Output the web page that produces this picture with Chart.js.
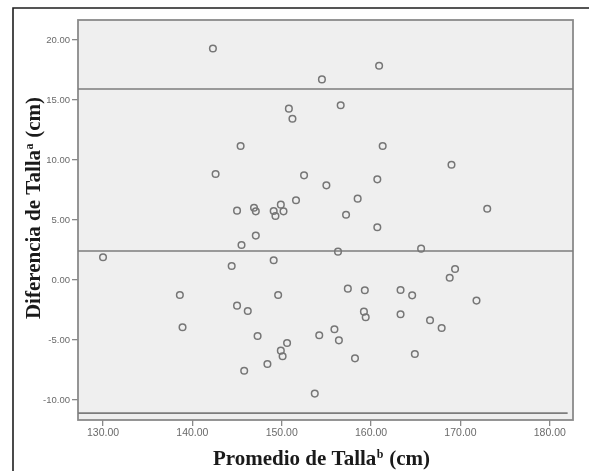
<!DOCTYPE html>
<html><head><meta charset="utf-8">
<script src="https://cdn.jsdelivr.net/npm/chart.js@4"></script>
<style>html,body{margin:0;padding:0;background:#fff}#wrap{width:589px;height:471px;position:relative}</style>
</head><body><div id="wrap"><canvas id="c" width="589" height="471"></canvas></div>
<script>
// Promedio de talla (x) and diferencia de talla (y) for each subject
const promedio = [142.3,150.8,151.2,145.4,142.6,145.0,146.9,147.1,149.1,149.3,149.9,150.2,151.6,147.1,
  160.9,154.5,156.6,161.3,169.0,152.5,155.0,160.7,158.5,157.2,173.0,160.7,
  145.5,130.0,144.4,149.1,138.6,149.6,145.0,146.2,138.9,147.3,150.6,149.9,150.1,148.4,145.8,
  165.6,156.3,169.4,168.8,157.4,159.3,163.3,164.6,171.8,159.2,159.4,163.3,166.6,167.9,155.9,154.2,156.4,164.9,158.2,153.7];
const diferencia = [19.30,14.28,13.44,11.17,8.83,5.78,6.02,5.72,5.75,5.33,6.28,5.72,6.65,3.70,
  17.86,16.72,14.56,11.17,9.61,8.72,7.89,8.39,6.78,5.44,5.94,4.39,
  2.92,1.89,1.17,1.64,-1.25,-1.25,-2.14,-2.58,-3.94,-4.67,-5.25,-5.89,-6.36,-7.00,-7.56,
  2.61,2.36,0.92,0.19,-0.72,-0.86,-0.83,-1.28,-1.72,-2.64,-3.11,-2.86,-3.36,-4.00,-4.11,-4.61,-5.03,-6.17,-6.53,-9.47];
// Horizontal reference lines: upper limit, mean, lower limit
const limites = [15.92, 2.42, -11.10];
const limiteFin = [182.6, 182.6, 182.0];
const xTicks = [130,140,150,160,170,180];
const yTicks = [-10,-5,0,5,10,15,20];
const xRange = [127.2, 182.6];
const yRange = [-11.67, 21.67];
const xTitle = ['Promedio de Talla', 'b', ' (cm)'];
const yTitle = ['Diferencia de Talla', 'a', ' (cm)'];

const pts = promedio.map((x,i)=>({x:x, y:diferencia[i]}));
const lineSets = limites.map((v,i)=>({
  type:'line', data:[{x:xRange[0], y:v},{x:limiteFin[i], y:v}],
  borderColor:'#7d7d7d', borderWidth:1.6, pointRadius:0, fill:false, showLine:true, order:2
}));

const deco = {
  id:'deco',
  beforeDraw(chart){
    const {ctx, chartArea:a, width, height} = chart;
    ctx.save();
    ctx.fillStyle='#fff'; ctx.fillRect(0,0,width,height);
    ctx.strokeStyle='#1e1e1e'; ctx.lineWidth=1.6;
    ctx.beginPath(); ctx.moveTo(13,height+2); ctx.lineTo(13,8); ctx.lineTo(width+2,8); ctx.stroke();
    ctx.fillStyle='#efefef'; ctx.fillRect(a.left,a.top,a.right-a.left,a.bottom-a.top);
    ctx.strokeStyle='#8a8a8a'; ctx.lineWidth=1.8;
    ctx.strokeRect(a.left,a.top,a.right-a.left,a.bottom-a.top);
    ctx.restore();
  },
  afterDraw(chart){
    const {ctx, chartArea:a} = chart;
    const big='bold 21px "Liberation Serif", "Times New Roman", serif';
    const small='bold 12px "Liberation Serif", "Times New Roman", serif';
    function drawTitle(parts, cx, baseY){
      ctx.font=big; const w1=ctx.measureText(parts[0]).width; const w3=ctx.measureText(parts[2]).width;
      ctx.font=small; const w2=ctx.measureText(parts[1]).width+1;
      let x=cx-(w1+w2+w3)/2;
      ctx.fillStyle='#1a1a1a'; ctx.textBaseline='alphabetic'; ctx.textAlign='left';
      ctx.font=big; ctx.fillText(parts[0],x,baseY); x+=w1;
      ctx.font=small; ctx.fillText(parts[1],x+0.5,baseY-7); x+=w2;
      ctx.font=big; ctx.fillText(parts[2],x,baseY);
    }
    ctx.save();
    drawTitle(xTitle, (a.left+a.right)/2-4, 465);
    ctx.translate(40, (a.top+a.bottom)/2-12);
    ctx.rotate(-Math.PI/2);
    drawTitle(yTitle, 0, 0);
    ctx.restore();
  }
};

const xTickFont = {family:'"Liberation Sans", Arial, sans-serif', size:10.5};
const yTickFont = {family:'"Liberation Sans", Arial, sans-serif', size:9.5};
new Chart(document.getElementById('c'), {
  type:'scatter',
  data:{datasets:[
    {data:pts, pointRadius:3.3, pointHoverRadius:3.3, borderColor:'#767676', borderWidth:1.5,
     backgroundColor:'rgba(0,0,0,0)', order:1},
    ...lineSets
  ]},
  options:{
    responsive:false, animation:false, devicePixelRatio:1,
    layout:{padding:{top:20,right:16,left:0,bottom:0}},
    plugins:{legend:{display:false}, tooltip:{enabled:false}},
    scales:{
      x:{type:'linear', min:xRange[0], max:xRange[1],
        afterBuildTicks:s=>{s.ticks=xTicks.map(v=>({value:v}));},
        afterFit:s=>{s.height=51;},
        ticks:{callback:v=>Number(v).toFixed(2), font:xTickFont, color:'#6a6a6a', padding:1, maxRotation:0, autoSkip:false},
        grid:{drawOnChartArea:false, drawTicks:true, tickLength:6, color:'#8a8a8a', lineWidth:1.3},
        border:{display:false}},
      y:{type:'linear', min:yRange[0], max:yRange[1],
        afterBuildTicks:s=>{s.ticks=yTicks.map(v=>({value:v}));},
        afterFit:s=>{s.width=78;},
        ticks:{callback:v=>Number(v).toFixed(2), font:yTickFont, color:'#6a6a6a', padding:2, autoSkip:false},
        grid:{drawOnChartArea:false, drawTicks:true, tickLength:6, color:'#8a8a8a', lineWidth:1.3},
        border:{display:false}}
    }
  },
  plugins:[deco]
});
</script></body></html>
